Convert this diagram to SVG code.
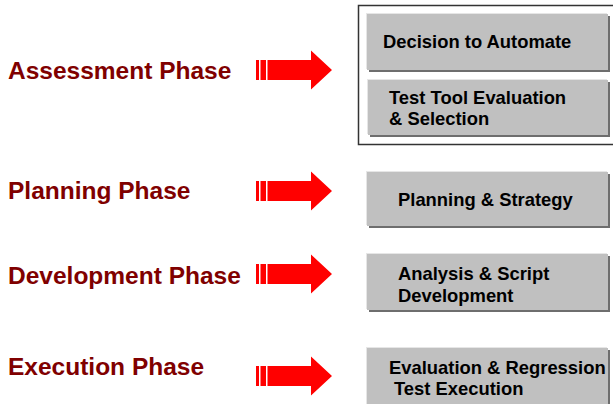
<svg xmlns="http://www.w3.org/2000/svg" width="613" height="404" viewBox="0 0 613 404">
<defs>
<style>
.phase{font-family:"Liberation Sans",Arial,sans-serif;font-weight:bold;font-size:24.5px;fill:#800000}
.lbl{font-family:"Liberation Sans",Arial,sans-serif;font-weight:bold;font-size:18.4px;fill:#000}
.hl{fill:#e6e6e6}
.sh{fill:#6e6e6e}
.bx{fill:#c0c0c0}
.arr{fill:#ff0000}
</style>
<g id="arrowShape">
<rect x="256" y="-10" width="3" height="20"/>
<rect x="260.5" y="-10" width="5.5" height="20"/>
<polygon points="267.5,-10 311,-10 311,-19.5 332,0 311,19.5 311,10 267.5,10"/>
</g>
</defs>
<rect width="613" height="404" fill="#fff"/>

<g id="assessmentFrame">
<rect x="358.5" y="5.5" width="260" height="139" fill="none" stroke="#333" stroke-width="1.5"/>
</g>

<g id="phase-assessment"><text class="phase" x="8" y="79">Assessment Phase</text></g>
<g id="phase-planning"><text class="phase" x="8" y="199">Planning Phase</text></g>
<g id="phase-development"><text class="phase" x="8" y="284">Development Phase</text></g>
<g id="phase-execution"><text class="phase" x="8" y="375">Execution Phase</text></g>

<g id="connectors" class="arr">
<use href="#arrowShape" transform="translate(0,70)"/>
<use href="#arrowShape" transform="translate(0,191)"/>
<use href="#arrowShape" transform="translate(0,274)"/>
<use href="#arrowShape" transform="translate(0,376)"/>
</g>

<g id="box-decision">
<rect class="sh" x="369" y="16" width="241" height="56"/>
<rect class="hl" x="366" y="13" width="241" height="56"/>
<rect class="bx" x="367" y="14" width="241" height="56"/>
<text class="lbl" x="383" y="48">Decision to Automate</text>
</g>

<g id="box-tooleval">
<rect class="sh" x="370" y="82" width="240" height="55"/>
<rect class="hl" x="367" y="79" width="240" height="55"/>
<rect class="bx" x="368" y="80" width="240" height="55"/>
<text class="lbl" x="389" y="103.5">Test Tool Evaluation</text>
<text class="lbl" x="389" y="125">&amp; Selection</text>
</g>

<g id="box-planning">
<rect class="sh" x="369" y="174" width="241" height="54"/>
<rect class="hl" x="366" y="171" width="241" height="54"/>
<rect class="bx" x="367" y="172" width="241" height="54"/>
<text class="lbl" x="398" y="206">Planning &amp; Strategy</text>
</g>

<g id="box-analysis">
<rect class="sh" x="369" y="256" width="241" height="56"/>
<rect class="hl" x="366" y="253" width="241" height="56"/>
<rect class="bx" x="367" y="254" width="241" height="56"/>
<text class="lbl" x="398" y="279.5">Analysis &amp; Script</text>
<text class="lbl" x="398" y="301.5">Development</text>
</g>

<g id="box-evaluation">
<rect class="sh" x="369" y="350" width="241" height="60"/>
<rect class="hl" x="366" y="347" width="241" height="60"/>
<rect class="bx" x="367" y="348" width="241" height="60"/>
<text class="lbl" x="389" y="373.5">Evaluation &amp; Regression</text>
<text class="lbl" x="394" y="395">Test Execution</text>
</g>
</svg>
